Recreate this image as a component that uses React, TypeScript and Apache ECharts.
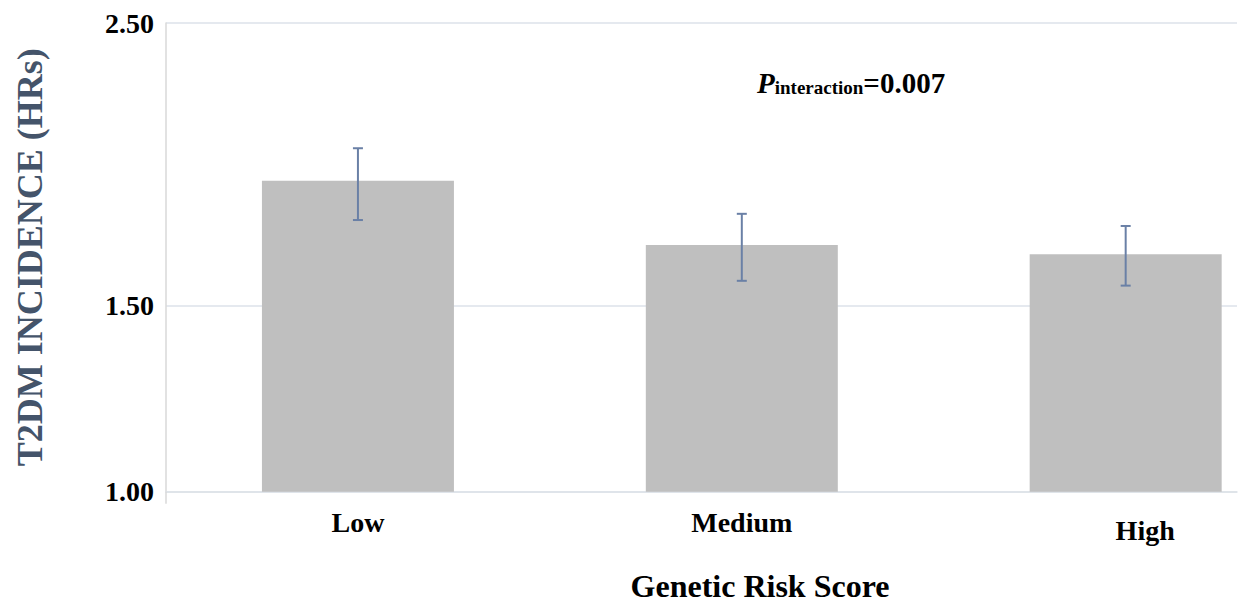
import React, { useEffect, useRef } from "react";
import * as echarts from "echarts";

const categories = ["Low", "Medium", "High"];
const hrValues = [1.942, 1.715, 1.682];
const ciLower = [1.803, 1.588, 1.571];
const ciUpper = [2.057, 1.825, 1.782];
const yTickValues = [0.842, 1.5, 2.5];
const yTickLabels = ["1.00", "1.50", "2.50"];

const SERIF = '"Times New Roman", "Liberation Serif", "DejaVu Serif", serif';

export default function App() {
  const ref = useRef<HTMLDivElement>(null);
  useEffect(() => {
    document.body.style.margin = "0";
    if (!ref.current) return;
    const chart = echarts.init(ref.current, undefined, { renderer: "svg" });
    const barData = categories.map((_, i) => [i, hrValues[i]]);
    const errData = categories.map((_, i) => [i, ciLower[i], ciUpper[i]]);
    chart.setOption({
      animation: false,
      backgroundColor: "#ffffff",
      title: {
        left: 757,
        top: 68,
        padding: 0,
        text: "{p|P}{s|interaction}{n|=0.007}",
        textStyle: {
          rich: {
            p: { fontFamily: SERIF, fontStyle: "italic", fontWeight: "bold", fontSize: 29, color: "#000", verticalAlign: "bottom" },
            s: { fontFamily: SERIF, fontWeight: "bold", fontSize: 19, color: "#000", verticalAlign: "bottom" },
            n: { fontFamily: SERIF, fontWeight: "bold", fontSize: 29, color: "#000", verticalAlign: "bottom" },
          },
        },
      },
      graphic: [
        {
          type: "text",
          x: 760,
          y: 570,
          style: {
            text: "Genetic Risk Score",
            fontFamily: SERIF,
            fontWeight: "bold",
            fontSize: 32,
            fill: "#000",
            textAlign: "center",
            textVerticalAlign: "top",
          },
        },
      ],
      grid: { left: 166, top: 23, width: 1071, bottom: 117.3, containLabel: false },
      xAxis: {
        type: "value",
        min: -0.5,
        max: 2.29,
        splitLine: { show: false },
        axisLine: { show: true, onZero: false, lineStyle: { color: "#dde2e8", width: 1.5 } },
        axisTick: { show: true, customValues: [-0.5], length: 12, lineStyle: { color: "#d9d9d9", width: 1.5 } },
        axisLabel: {
          customValues: [0, 1, 2],
          margin: 17,
          fontFamily: SERIF,
          fontWeight: "bold",
          fontSize: 28,
          color: "#000",
          formatter: (v: number) => {
            const name = categories[Math.round(v)] ?? "";
            return Math.round(v) === 2 ? "{hi|" + name + "}" : name;
          },
          rich: {
            hi: { fontFamily: SERIF, fontWeight: "bold", fontSize: 28, color: "#000", padding: [8, 0, 0, 39] },
          },
        },
      },
      yAxis: {
        type: "value",
        min: yTickValues[0],
        max: yTickValues[yTickValues.length - 1],
        name: "T2DM INCIDENCE (HRs)",
        nameLocation: "middle",
        nameRotate: 90,
        nameGap: 118,
        nameTextStyle: { fontFamily: SERIF, fontWeight: "bold", fontSize: 36, color: "#44546A" },
        axisLine: { show: true, onZero: false, lineStyle: { color: "#d9d9d9", width: 1.5 } },
        axisTick: { show: false, customValues: yTickValues },
        splitLine: { show: true, lineStyle: { color: "#dde2ea", width: 1.5 } },
        axisLabel: {
          customValues: yTickValues,
          margin: 12,
          fontFamily: SERIF,
          fontWeight: "bold",
          fontSize: 28,
          color: "#000",
          formatter: (v: number) => {
            let best = 0;
            yTickValues.forEach((t, i) => {
              if (Math.abs(t - v) < Math.abs(yTickValues[best] - v)) best = i;
            });
            return yTickLabels[best];
          },
        },
      },
      series: [
        {
          type: "bar",
          data: barData,
          barWidth: 192,
          itemStyle: { color: "#bfbfbf" },
        },
        {
          type: "custom",
          data: errData,
          z: 10,
          renderItem: (params: any, api: any) => {
            const x = api.value(0);
            const top = api.coord([x, api.value(2)]);
            const bot = api.coord([x, api.value(1)]);
            const stroke = { stroke: "#6a80a6", lineWidth: 2 };
            const hw = 5;
            return {
              type: "group",
              children: [
                { type: "line", shape: { x1: top[0], y1: top[1], x2: bot[0], y2: bot[1] }, style: stroke },
                { type: "line", shape: { x1: top[0] - hw, y1: top[1], x2: top[0] + hw, y2: top[1] }, style: stroke },
                { type: "line", shape: { x1: bot[0] - hw, y1: bot[1], x2: bot[0] + hw, y2: bot[1] }, style: stroke },
              ],
            };
          },
        },
      ],
    });
    return () => chart.dispose();
  }, []);
  return <div ref={ref} style={{ width: 1243, height: 609 }} />;
}
